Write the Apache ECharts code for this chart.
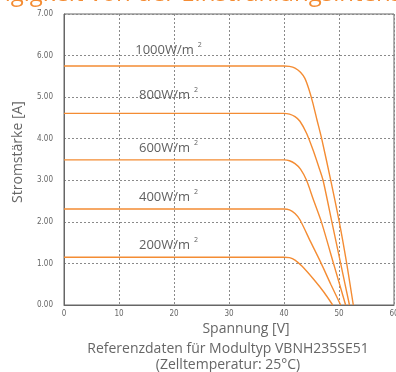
<!DOCTYPE html>
<html>
<head>
<meta charset="utf-8">
<script src="https://cdn.jsdelivr.net/npm/echarts@6/dist/echarts.min.js"></script>
<style>
  html, body { margin: 0; padding: 0; background: #fff; }
  #chart { width: 396px; height: 372px; }
</style>
</head>
<body>
<div id="chart"></div>
<script>
// I-V curves of a PV module at different irradiance levels
const irradianceLabels = ['1000W/m', '800W/m', '600W/m', '400W/m', '200W/m'];
const labelLift = [-16, -18, -12, -12, -12];

// [voltage V, current A]
const curve1000 = [[0,5.75],[40,5.75],[41,5.74],[42,5.70],[43,5.60],[43.8,5.45],[44.5,5.2],[45.2,4.88],[46,4.45],[46.85,4.0],[48.5,3.0],[50.05,2.0],[51.4,1.0],[52.6,0]];
const curve800  = [[0,4.61],[40,4.61],[41,4.59],[42,4.53],[42.9,4.42],[44.1,4.13],[45.3,3.72],[46.3,3.33],[47.1,3.0],[48.7,2.0],[50.3,1.0],[51.9,0]];
const curve600  = [[0,3.49],[40,3.49],[41,3.47],[42,3.4],[43,3.27],[44.1,3.0],[45.3,2.55],[46.8,2.0],[49.0,1.0],[51.2,0]];
const curve400  = [[0,2.31],[40,2.31],[41,2.29],[42,2.2],[42.9,2.05],[44.8,1.53],[46.7,1.02],[48.5,0.5],[50.3,0]];
const curve200  = [[0,1.15],[40,1.15],[41,1.14],[42,1.08],[43.3,0.93],[45.5,0.6],[47.3,0.3],[48.85,0]];
const curves = [curve1000, curve800, curve600, curve400, curve200];

const xTicks = [0, 10, 20, 30, 40, 50, 60];
const yTicks = [0, 1, 2, 3, 4, 5, 6, 7];

const ORANGE = '#f48c33';
const GRAY = '#5f5f5f';
const TICK_FONT = "'Liberation Sans Narrow', 'DejaVu Sans Condensed', 'Open Sans', sans-serif";

const chart = echarts.init(document.getElementById('chart'), null, { renderer: 'canvas' });

const series = curves.map((pts, i) => ({
  type: 'line',
  data: pts,
  smooth: 0.25,
  showSymbol: false,
  lineStyle: { color: ORANGE, width: 1.4 },
  z: 3,
  markPoint: {
    symbol: 'circle',
    symbolSize: 0,
    silent: true,
    itemStyle: { color: 'transparent' },
    data: [{ coord: [19, pts[0][1]] }],
    label: {
      show: true,
      position: 'inside',
      offset: [0, labelLift[i]],
      formatter: '{a|' + irradianceLabels[i] + '}{b|2}',
      rich: {
        a: { fontFamily: 'Open Sans', fontSize: 13, color: GRAY },
        b: { fontFamily: 'Open Sans', fontSize: 7, color: GRAY, padding: [0, 0, 10, 4] }
      }
    }
  }
}));

chart.setOption({
  animation: false,
  backgroundColor: '#fff',
  grid: {
    left: 64, right: 2, top: 14, bottom: 67,
    outerBoundsMode: 'none',
    containLabel: false,
    show: true, borderColor: '#666', borderWidth: 1, backgroundColor: '#fff'
  },
  xAxis: {
    type: 'value', min: xTicks[0], max: xTicks[xTicks.length - 1], interval: 10,
    axisLine: { show: true, lineStyle: { color: '#666' } },
    axisTick: { show: false },
    axisLabel: { fontFamily: TICK_FONT, fontSize: 8, color: '#666', margin: 5 },
    splitLine: { show: true, lineStyle: { color: '#8a8a8a', type: [2, 2], width: 1 } }
  },
  yAxis: {
    type: 'value', min: yTicks[0], max: yTicks[yTicks.length - 1], interval: 1,
    axisLine: { show: true, lineStyle: { color: '#666' } },
    axisTick: { show: false },
    axisLabel: {
      fontFamily: TICK_FONT, fontSize: 8, color: '#666', margin: 11,
      formatter: v => v.toFixed(2)
    },
    splitLine: { show: true, lineStyle: { color: '#8a8a8a', type: [2, 2], width: 1 } }
  },
  graphic: [
    {
      type: 'text', left: -62, top: -18,
      style: { text: 'Abhängigkeit von der Einstrahlungsintensität', fontFamily: 'Open Sans', fontSize: 24, fill: ORANGE }
    },
    {
      type: 'text', x: 18, y: 152, rotation: Math.PI / 2,
      style: { text: 'Stromstärke [A]', fontFamily: 'Open Sans', fontSize: 14, fill: '#666', textAlign: 'center', textVerticalAlign: 'middle' }
    },
    {
      type: 'text', x: 246, y: 329,
      style: { text: 'Spannung [V]', fontFamily: 'Open Sans', fontSize: 14, fill: '#666', textAlign: 'center', textVerticalAlign: 'middle' }
    },
    {
      type: 'text', x: 228, y: 349,
      style: { text: 'Referenzdaten für Modultyp VBNH235SE51', fontFamily: 'Open Sans', fontSize: 14, fill: '#666', textAlign: 'center', textVerticalAlign: 'middle' }
    },
    {
      type: 'text', x: 228, y: 365,
      style: { text: '(Zelltemperatur: 25°C)', fontFamily: 'Open Sans', fontSize: 14, fill: '#666', textAlign: 'center', textVerticalAlign: 'middle' }
    }
  ],
  series: series
});
</script>
</body>
</html>
